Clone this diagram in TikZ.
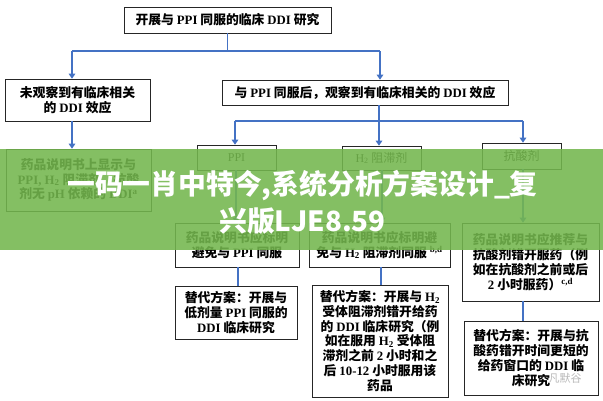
\documentclass[tikz,border=0pt]{standalone}
\usepackage{fontspec}
\setmainfont{Noto Sans CJK SC}
\newfontfamily\latfont{Liberation Serif}
\usetikzlibrary{arrows.meta,shadows}
\newcommand\ltn[1]{{\latfont #1}}
\definecolor{connblue}{RGB}{68,114,196}
\definecolor{bandgreen}{RGB}{116,183,78}
\begin{document}
\begin{tikzpicture}[x=1pt,y=-1pt,
 box/.style={draw=black!85, line width=0.6pt, fill=white, align=center, inner sep=1pt,
   font=\bfseries\fontsize{12.8}{14.8}\selectfont,
   drop shadow={shadow xshift=1.2pt, shadow yshift=-1.2pt, fill=black!40, opacity=0.8}},
 smallbox/.style={box, font=\fontsize{12}{14}\selectfont},
 conn/.style={draw=connblue, line width=1.8pt},
 arr/.style={conn, -{Triangle[width=6.5pt,length=5pt]}},
]
\useasboundingbox (0,0) rectangle (603,400);
\fill[white] (0,0) rectangle (603,400);

% level 0
\node[box, minimum width=207pt, minimum height=26pt] (top) at (227.5,20)
  {开展与 \ltn{PPI} 同服的临床 \ltn{DDI} 研究};
% level 1
\node[box, minimum width=145pt, minimum height=42pt] (L1) at (77.5,100)
  {未观察到有临床相关\\的 \ltn{DDI} 效应};
\node[box, minimum width=286pt, minimum height=25pt] (R1) at (365,92.5)
  {与 \ltn{PPI} 同服后，观察到有临床相关的 \ltn{DDI} 效应};
% level 2
\node[box, minimum width=145pt, minimum height=62pt] (L2) at (78.5,180)
  {药品说明书上显示与\\\ltn{PPI, H\textsubscript{2}} 阻滞剂，抗酸\\剂无 \ltn{pH} 依赖的 \ltn{DDI\textsuperscript{a}}};
\node[smallbox, minimum width=79pt, minimum height=25pt] (ppi) at (236.5,157.5) {\ltn{PPI}};
\node[smallbox, minimum width=79pt, minimum height=24pt] (h2) at (381.5,158) {\ltn{H\textsubscript{2}} 阻滞剂};
\node[smallbox, minimum width=79pt, minimum height=26pt] (ant) at (521.5,156) {抗酸剂};
% level 3
\node[box, minimum width=124pt, minimum height=44pt] (ppi2) at (237,245)
  {药品说明书应标明\\避免与 \ltn{PPI} 同服};
\node[box, minimum width=141pt, minimum height=44pt] (h22) at (379.5,245)
  {药品说明书应标明避\\免与 \ltn{H\textsubscript{2}} 阻滞剂同服 \ltn{\textsuperscript{b,d}}};
\node[box, minimum width=137pt, minimum height=78pt] (ant2) at (530.5,262)
  {药品说明书应推荐与\\抗酸剂错开服药（例\\如在抗酸剂之前或后\\\ltn{2} 小时服药）\ltn{\textsuperscript{c,d}}};
% level 4
\node[box, minimum width=122pt, minimum height=53pt] (alt1) at (236,312.5)
  {替代方案：开展与\\低剂量 \ltn{PPI} 同服的\\\ltn{DDI} 临床研究};
\node[box, minimum width=136pt, minimum height=112pt] (alt2) at (380,341)
  {替代方案：开展与 \ltn{H\textsubscript{2}}\\受体阻滞剂错开给药\\的 \ltn{DDI} 临床研究（例\\如在服用 \ltn{H\textsubscript{2}} 受体阻\\滞剂之前 \ltn{2} 小时和之\\后 \ltn{10-12} 小时服用该\\药品};
\node[box, minimum width=134pt, minimum height=74pt] (alt3) at (531,358)
  {替代方案：开展与抗\\酸药错开时间更短的\\给药窗口的 \ltn{DDI} 临\\床研究};
\node[text=black!45, opacity=0.6, font=\fontsize{11}{12}\selectfont] (wm) at (565,378) {凡默谷};

% connectors
\coordinate (a1) at (72,51);
\coordinate (a2) at (380,51);
\coordinate (b0) at (379,121);
\coordinate (b1) at (235,121);
\coordinate (b2) at (523,121);
\coordinate (c1) at (236,200);
\coordinate (c2) at (382,200);
\coordinate (c3) at (523,200);
\coordinate (d1) at (238,280);
\coordinate (d2) at (381,280);
\coordinate (d3) at (523,310);

\draw[conn] (top.south) -- (top.south |- a1);
\draw[conn] (a1) -- (a2);
\draw[arr] (a1) -- (a1 |- L1.north);
\draw[arr] (a2) -- (a2 |- R1.north);
\draw[arr] (a1 |- L1.south) -- (a1 |- L2.north);
\draw[conn] (b0 |- R1.south) -- (b0);
\draw[conn] (b1) -- (b2);
\draw[arr] (b1) -- (b1 |- ppi.north);
\draw[arr] (b0) -- (b0 |- h2.north);
\draw[arr] (b2) -- (b2 |- ant.north);
\draw[arr] (c1 |- ppi.south) -- (c1 |- ppi2.north);
\draw[arr] (c2 |- h2.south) -- (c2 |- h22.north);
\draw[arr] (c3 |- ant.south) -- (c3 |- ant2.north);
\draw[conn] (d1 |- ppi2.south) -- (d1 |- alt1.north);
\draw[conn] (d2 |- h22.south) -- (d2 |- alt2.north);
\draw[conn] (d3 |- ant2.south) -- (d3 |- alt3.north);

% overlay band
\fill[bandgreen, opacity=0.88] (0,149) rectangle (603,250);
\node[text=white, align=center, font=\bfseries\fontsize{27.8}{37}\selectfont] (bandtxt) at (302.5,202)
  {一码一肖中特今,系统分析方案设计\_复\\兴版LJE8.59};
\end{tikzpicture}
\end{document}
